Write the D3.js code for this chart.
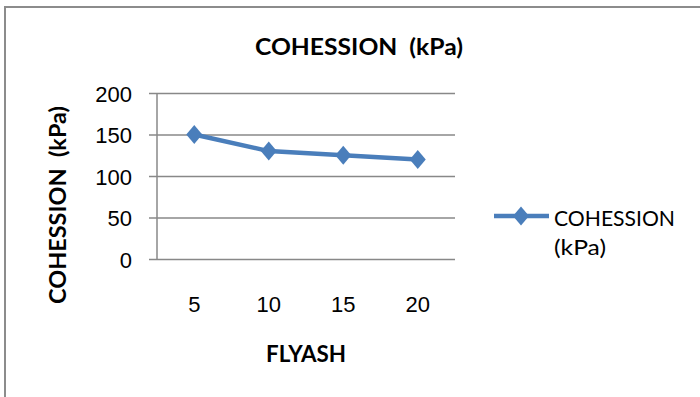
<!DOCTYPE html>
<html>
<head>
<meta charset="utf-8">
<script src="https://cdn.jsdelivr.net/npm/d3@7"></script>
<style>
  html, body { margin: 0; padding: 0; background: #fff; }
  svg { display: block; font-family: Lato, "Open Sans", sans-serif; }
  text { white-space: pre; }
</style>
</head>
<body>
<svg id="chart" width="700" height="397"></svg>
<script>
// Cohesion against fly ash content
const flyash = ["5", "10", "15", "20"];
const cohesion = [150, 130, 125, 120];
const yTicks = [0, 50, 100, 150, 200];
const seriesName = "COHESSION  (kPa)";
const xTitle = "FLYASH";

const svg = d3.select("#chart");
const blue = "#4a7ebb";
const grid = "#888888";

// outer chart frame
svg.append("path")
  .attr("d", "M5,397 V7 H700")
  .attr("fill", "none").attr("stroke", "#8c8c8c").attr("stroke-width", 2);

const plot = { left: 157, right: 455, top: 93, bottom: 259 };

const x = d3.scaleBand().domain(flyash).range([plot.left, plot.right]);
const y = d3.scaleLinear().domain([0, 200]).range([plot.bottom, plot.top]);
const cx = c => x(c) + x.bandwidth() / 2;

// horizontal gridlines (with the short tick stub left of the axis)
const yAxis = d3.axisLeft(y).tickValues(yTicks).tickSize(plot.right - plot.left + 8).tickPadding(17);
const gy = svg.append("g").attr("transform", `translate(${plot.right},0)`).call(yAxis);
gy.select(".domain").remove();
gy.selectAll(".tick line").attr("stroke", grid).attr("stroke-width", 1.5);
gy.selectAll(".tick text").attr("fill", "#000").attr("font-size", 22).attr("font-family", null).attr("dy", "0.38em");

// vertical axis line
svg.append("line")
  .attr("x1", plot.left).attr("x2", plot.left)
  .attr("y1", y(200)).attr("y2", y(0))
  .attr("stroke", grid).attr("stroke-width", 1.5);

// category labels
const xAxis = d3.axisBottom(x).tickSize(0).tickPadding(37);
const gx = svg.append("g").attr("transform", `translate(0,${plot.bottom})`).call(xAxis);
gx.select(".domain").remove();
gx.selectAll(".tick text").attr("fill", "#000").attr("font-size", 22).attr("font-family", null).attr("dy", "0.71em");

// diamond marker, slightly taller than wide
const diamondType = {
  draw(ctx, size) {
    const w = 8, h = 9.5;
    ctx.moveTo(0, -h); ctx.lineTo(w, 0); ctx.lineTo(0, h); ctx.lineTo(-w, 0); ctx.closePath();
  }
};
const diamond = d3.symbol().type(diamondType);

// series line and markers
const line = d3.line().x((d, i) => cx(flyash[i])).y(d => y(d));
svg.append("path").datum(cohesion)
  .attr("d", line).attr("fill", "none")
  .attr("stroke", blue).attr("stroke-width", 4.5).attr("stroke-linejoin", "round");
svg.append("g").selectAll("path").data(cohesion).join("path")
  .attr("d", diamond)
  .attr("transform", (d, i) => `translate(${cx(flyash[i])},${y(d)})`)
  .attr("fill", blue);

// titles
svg.append("text").attr("x", 255).attr("y", 55)
  .attr("font-size", 22).attr("font-weight", "bold")
  .attr("textLength", 208).attr("lengthAdjust", "spacingAndGlyphs").text(seriesName);
svg.append("text").attr("x", 266).attr("y", 362)
  .attr("font-size", 22).attr("font-weight", "bold")
  .attr("textLength", 80).attr("lengthAdjust", "spacingAndGlyphs").text(xTitle);
svg.append("text").attr("transform", "translate(66,304) rotate(-90)")
  .attr("font-size", 22).attr("font-weight", "bold")
  .attr("textLength", 198).attr("lengthAdjust", "spacingAndGlyphs").text(seriesName);

// legend
const lg = svg.append("g").attr("transform", "translate(494,216)");
lg.append("line").attr("x1", 0).attr("x2", 55).attr("stroke", blue).attr("stroke-width", 4.5);
lg.append("path").attr("d", diamond).attr("transform", "translate(27,0)").attr("fill", blue);
const [legA, legB] = seriesName.split(/\s+/);
lg.append("text").attr("x", 60).attr("y", 10).attr("font-size", 22)
  .attr("textLength", 121).attr("lengthAdjust", "spacingAndGlyphs").text(legA);
lg.append("text").attr("x", 60).attr("y", 39).attr("font-size", 22)
  .attr("textLength", 52).attr("lengthAdjust", "spacingAndGlyphs").text(legB);
</script>
</body>
</html>
